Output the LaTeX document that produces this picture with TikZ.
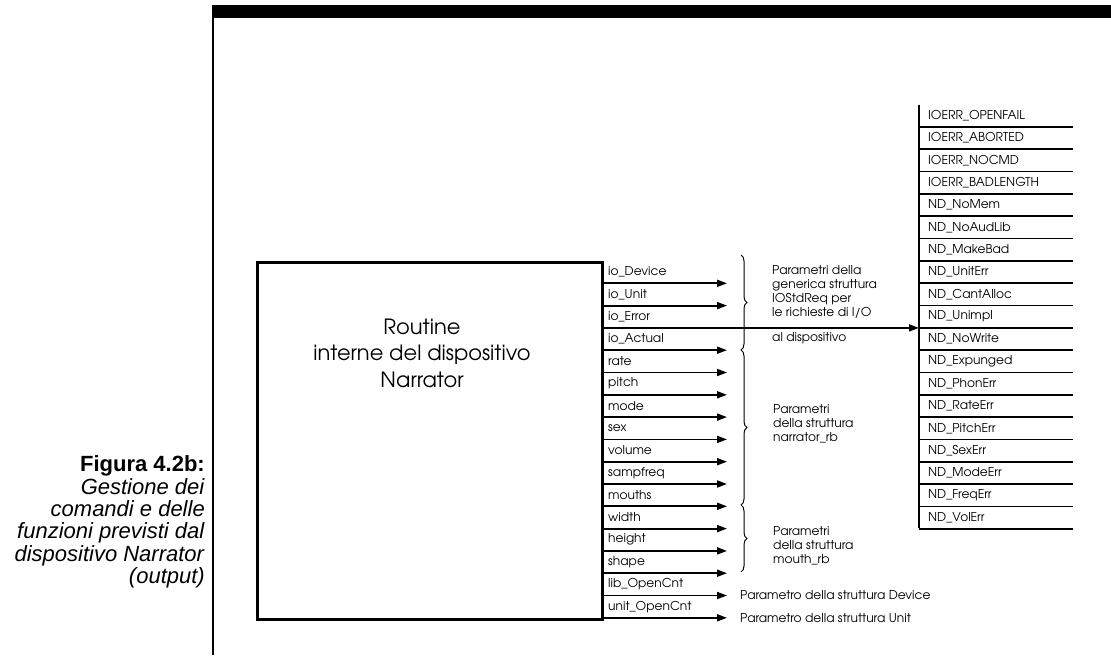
\documentclass[tikz,border=0pt]{standalone}
\usepackage{fontspec}
\IfFontExistsTF{texgyreadventor-regular.otf}{\setmainfont{texgyreadventor-regular.otf}}{\setmainfont{Poppins}}
\newfontfamily\capfont{Liberation Sans}
\usetikzlibrary{decorations.pathreplacing,arrows.meta}
\tikzset{
  lab/.style={anchor=west, inner sep=0pt, font=\fontsize{12.2}{14}\selectfont},
  grp/.style={anchor=west, inner sep=0pt, align=left, font=\fontsize{12.2}{14}\selectfont},
  arr/.style={line width=1.8pt, -{Triangle[length=10pt,width=7pt]}},
  hline/.style={line width=1.5pt},
  brc/.style={decorate, decoration={brace, amplitude=6pt}, line width=1pt},
}
\begin{document}
\begin{tikzpicture}[x=1pt,y=-1pt]
\useasboundingbox (0,0) rectangle (1111,659);
% top bar and frame line
\fill[black] (212,5) rectangle (1111,18);
\draw[line width=2pt] (213,5) -- (213,655);
% main box
\node[draw, line width=2.6pt, minimum width=345pt, minimum height=357pt, inner sep=0pt, anchor=north west] (box) at (256,261) {};
\node[align=center, font=\fontsize{21}{26.5}\selectfont] (title) at (422,353) {Routine\\interne del dispositivo\\Narrator};
% rows
\foreach \t [count=\i] in {io\_Device,io\_Unit,io\_Error,io\_Actual,rate,pitch,mode,sex,volume,sampfreq,mouths,width,height,shape,lib\_OpenCnt,unit\_OpenCnt}{
  \node[lab] (r\i) at (608,{261+22.3*(\i-0.5)}) {\t};
  \coordinate (s\i) at (601,{261+22.3*\i});
  \coordinate (t\i) at (727,{261+22.3*\i});
}
\foreach \i in {1,2,4,5,6,7,8,9,10,11,12,13,14,15,16}{
  \draw[arr] (s\i) -- (t\i);
}
% right list
\coordinate (ltop) at (919,104.5);
\coordinate (lbot) at (919,528.4);
\draw[line width=2pt] (ltop) -- (lbot);
\foreach \t [count=\i] in {IOERR\_OPENFAIL,IOERR\_ABORTED,IOERR\_NOCMD,IOERR\_BADLENGTH,ND\_NoMem,ND\_NoAudLib,ND\_MakeBad,ND\_UnitErr,ND\_CantAlloc,ND\_Unimpl,ND\_NoWrite,ND\_Expunged,ND\_PhonErr,ND\_RateErr,ND\_PitchErr,ND\_SexErr,ND\_ModeErr,ND\_FreqErr,ND\_VolErr}{
  \node[lab] (e\i) at (928,{104.5+22.33*(\i-0.5)}) {\t};
  \coordinate (ea\i) at (919,{104.5+22.33*\i});
  \coordinate (eb\i) at (1073,{104.5+22.33*\i});
  \draw[hline] (ea\i) -- (eb\i);
}
% long arrow io_Error -> error list
\draw[arr] (s3) -- (s3 -| ltop);
% braces
\coordinate (b1t) at (741,255);
\coordinate (b1b) at (741,350);
\coordinate (b2b) at (741,505);
\coordinate (b3b) at (741,572);
\draw[brc] (b1t) -- (b1b);
\draw[brc] (b1b) -- (b2b);
\draw[brc] (b2b) -- (b3b);
% group texts
\node[grp] (g1) at (772,292) {Parametri della\\generica struttura\\IOStdReq per\\le richieste di I/O};
\node[lab] (g1b) at (772,338) {al dispositivo};
\node[grp] (g2) at (773,424) {Parametri\\della struttura\\narrator\_rb};
\node[grp] (g3) at (773,546) {Parametri\\della struttura\\mouth\_rb};
\node[lab] (p1) at (740,{261+22.3*15}) {Parametro della struttura Device};
\node[lab] (p2) at (740,{261+22.3*16}) {Parametro della struttura Unit};
% caption
\node[align=right, anchor=east, inner sep=0pt, font=\capfont\fontsize{22}{22.3}\selectfont] (cap) at (205,522)
  {\textbf{Figura 4.2b:}\\\textit{Gestione dei}\\\textit{comandi e delle}\\\textit{funzioni previsti dal}\\\textit{dispositivo Narrator}\\\textit{(output)}};
\end{tikzpicture}
\end{document}
